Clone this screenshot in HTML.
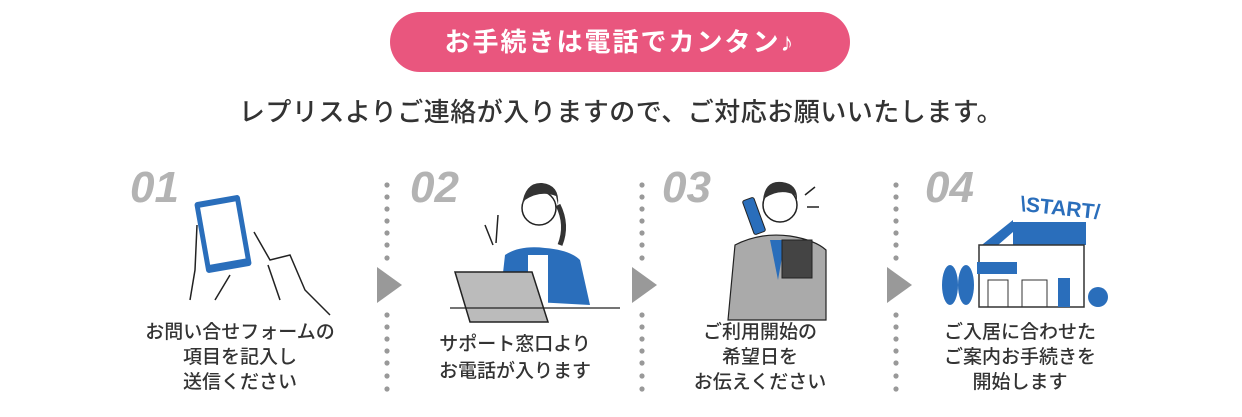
<!DOCTYPE html>
<html><head><meta charset="utf-8"><style>
body{margin:0;width:1242px;height:417px;background:#fff;position:relative;overflow:hidden;font-family:"Liberation Sans","Noto Sans CJK JP",sans-serif;}
.pill{position:absolute;left:390px;top:12px;width:460px;height:60px;border-radius:30px;background:#e9567e;color:#fff;font-weight:bold;font-size:26px;letter-spacing:2px;text-align:center;line-height:60px;}
.sub{position:absolute;left:0;width:1242px;top:92px;text-align:center;font-size:26px;color:#333;letter-spacing:0.5px;font-weight:500;}
.num{position:absolute;top:163px;font-size:44px;font-weight:bold;font-style:italic;color:#b3b3b3;font-family:"Liberation Sans",sans-serif;}
.cap{position:absolute;top:320px;width:280px;text-align:center;font-size:19px;line-height:25px;color:#333;font-weight:500;}
</style></head><body>
<div class="pill">お手続きは電話でカンタン♪</div>
<div class="sub">レプリスよりご連絡が入りますので、ご対応お願いいたします。</div>
<div class="num" style="left:130px">01</div>
<div class="num" style="left:410px">02</div>
<div class="num" style="left:662px">03</div>
<div class="num" style="left:925px">04</div>
<svg width="1242" height="417" style="position:absolute;left:0;top:0">
<defs><g id="dots" fill="#999">
<circle cx="0" cy="185" r="2.6"/><circle cx="0" cy="197" r="2.6"/><circle cx="0" cy="209" r="2.6"/><circle cx="0" cy="221" r="2.6"/><circle cx="0" cy="233" r="2.6"/><circle cx="0" cy="245" r="2.6"/><circle cx="0" cy="258" r="2.6"/>
<circle cx="0" cy="315" r="2.6"/><circle cx="0" cy="327" r="2.6"/><circle cx="0" cy="339" r="2.6"/><circle cx="0" cy="351" r="2.6"/><circle cx="0" cy="363" r="2.6"/><circle cx="0" cy="376" r="2.6"/><circle cx="0" cy="389" r="2.6"/>
</g></defs>
<use href="#dots" x="387"/><use href="#dots" x="642"/><use href="#dots" x="896"/>
<polygon points="377,267 402,285 377,303" fill="#999"/>
<polygon points="632,267 657,285 632,303" fill="#999"/>
<polygon points="887,267 912,285 887,303" fill="#999"/>
<g stroke="#222" stroke-width="1.5" fill="none">
<path d="M197,225 L195,270 L190,300"/><path d="M230,275 L215,300"/>
<path d="M254,232 L270,260 L290,255 L305,290 L330,315"/><path d="M268,265 L280,300"/>
</g>
<rect x="200" y="198" width="46" height="72" rx="3" transform="rotate(-10 223 234)" fill="#2a6ebb"/>
<rect x="205" y="204" width="36" height="58" transform="rotate(-10 223 234)" fill="#fff"/>
<circle cx="539" cy="208" r="17" fill="#fff" stroke="#222" stroke-width="1.5"/>
<path d="M522,205 Q525,182 542,183 Q560,185 558,205 L556,196 Q540,190 525,200Z" fill="#333"/>
<path d="M558,205 Q568,225 560,245" stroke="#333" stroke-width="5" fill="none"/>
<path d="M500,300 L505,255 Q520,245 545,248 Q570,250 580,260 L590,305Z" fill="#2a6ebb"/>
<rect x="528" y="255" width="20" height="50" fill="#fff"/>
<path d="M485,225 l8,20 m5,-30 l-2,28" stroke="#222" stroke-width="1.5" fill="none"/>
<polygon points="455,272 532,272 548,322 470,322" fill="#bbb" stroke="#222" stroke-width="1.5"/>
<line x1="450" y1="308" x2="620" y2="308" stroke="#222" stroke-width="1.2"/>
<path d="M728,320 L735,245 Q760,232 790,236 Q815,240 826,250 L826,320Z" fill="#aaa" stroke="#222" stroke-width="1.2"/>
<path d="M770,240 L778,280 L785,240Z" fill="#2a6ebb"/>
<circle cx="780" cy="205" r="17" fill="#fff" stroke="#222" stroke-width="1.5"/>
<path d="M763,200 Q765,180 782,182 Q798,184 797,200 L795,195 Q780,188 765,198Z" fill="#333"/>
<rect x="748" y="198" width="12" height="36" rx="2" transform="rotate(-20 754 216)" fill="#2a6ebb" stroke="#222"/>
<rect x="782" y="240" width="30" height="38" fill="#444" stroke="#222"/>
<path d="M805,195 l10,-8 m-8,20 l12,0" stroke="#222" stroke-width="1.5"/>
<text x="1060" y="215" font-family="Liberation Sans,sans-serif" font-weight="bold" font-size="21" fill="#2a6ebb" text-anchor="middle" transform="rotate(6 1060 210)">\START/</text>
<polygon points="978,248 1013,220 1013,232 990,252" fill="#2a6ebb"/>
<rect x="1013" y="222" width="73" height="23" fill="#2a6ebb"/>
<rect x="979" y="245" width="105" height="62" fill="#fff" stroke="#333" stroke-width="1.5"/>
<rect x="977" y="262" width="40" height="12" fill="#2a6ebb"/>
<rect x="1058" y="278" width="12" height="29" fill="#2a6ebb"/>
<rect x="988" y="280" width="20" height="27" fill="none" stroke="#333"/>
<rect x="1022" y="280" width="25" height="27" fill="none" stroke="#333"/>
<ellipse cx="950" cy="285" rx="8" ry="20" fill="#2a6ebb"/><ellipse cx="966" cy="285" rx="8" ry="20" fill="#2a6ebb"/>
<circle cx="1098" cy="297" r="10" fill="#2a6ebb"/>
</svg>
<div class="cap" style="left:100px">お問い合せフォームの<br>項目を記入し<br>送信ください</div>
<div class="cap" style="left:375px;top:331px;line-height:27px">サポート窓口より<br>お電話が入ります</div>
<div class="cap" style="left:620px">ご利用開始の<br>希望日を<br>お伝えください</div>
<div class="cap" style="left:880px">ご入居に合わせた<br>ご案内お手続きを<br>開始します</div>
</body></html>
